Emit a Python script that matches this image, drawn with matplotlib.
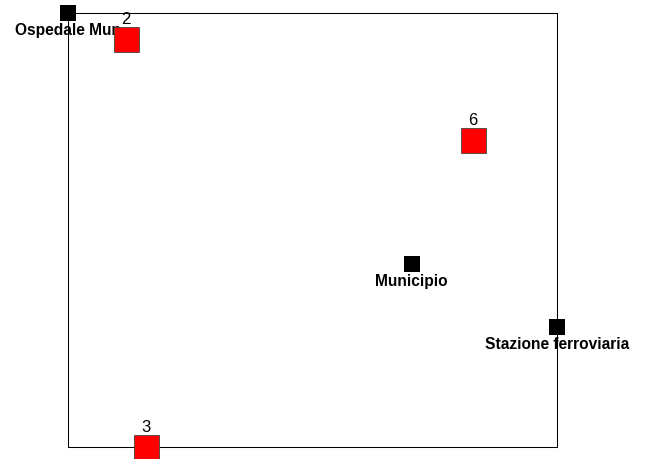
"""Map-style scatter of reference locations (black) and counts (red squares)."""

import matplotlib

matplotlib.use("Agg")
import matplotlib.pyplot as plt

# reference locations (black markers)
place_names = ["Ospedale Mun", "Municipio", "Stazione ferroviaria"]
place_x = [0.0, 70.3, 100.0]
place_y = [100.0, 42.2, 27.6]

# counted points (red squares with numbers)
count_labels = ["2", "6", "3"]
count_x = [11.9, 82.8, 16.0]
count_y = [94.0, 70.7, 0.0]

plt.rcParams["font.family"] = ["Liberation Sans", "DejaVu Sans"]

fig = plt.figure(figsize=(6.51, 4.60), dpi=100)
ax = fig.add_axes([68 / 651, 12 / 460, 489 / 651, 434 / 460])
ax.set_xlim(0, 100)
ax.set_ylim(0, 100)
ax.set_xticks([])
ax.set_yticks([])
for sp in ax.spines.values():
    sp.set_linewidth(0.75)
    sp.set_color("black")
    sp.set_zorder(2.5)

ax.plot(place_x, place_y, "s", color="black", markersize=11.5,
        markeredgewidth=0, clip_on=False, zorder=2)
for name, x, y in zip(place_names, place_x, place_y):
    ax.annotate(name, (x, y), xytext=(0, -12), textcoords="offset points",
                ha="center", va="center", fontsize=11.2, fontweight="bold",
                annotation_clip=False, zorder=2)

for lab, x, y in zip(count_labels, count_x, count_y):
    ax.annotate(lab, (x, y), xytext=(0, 15), textcoords="offset points",
                ha="center", va="center", fontsize=12,
                annotation_clip=False, zorder=2.6)
ax.plot(count_x, count_y, "s", color="#ff0000", markersize=18,
        markeredgecolor="#444444", markeredgewidth=0.6, clip_on=False, zorder=3)

fig.savefig("out.png", dpi=100)
